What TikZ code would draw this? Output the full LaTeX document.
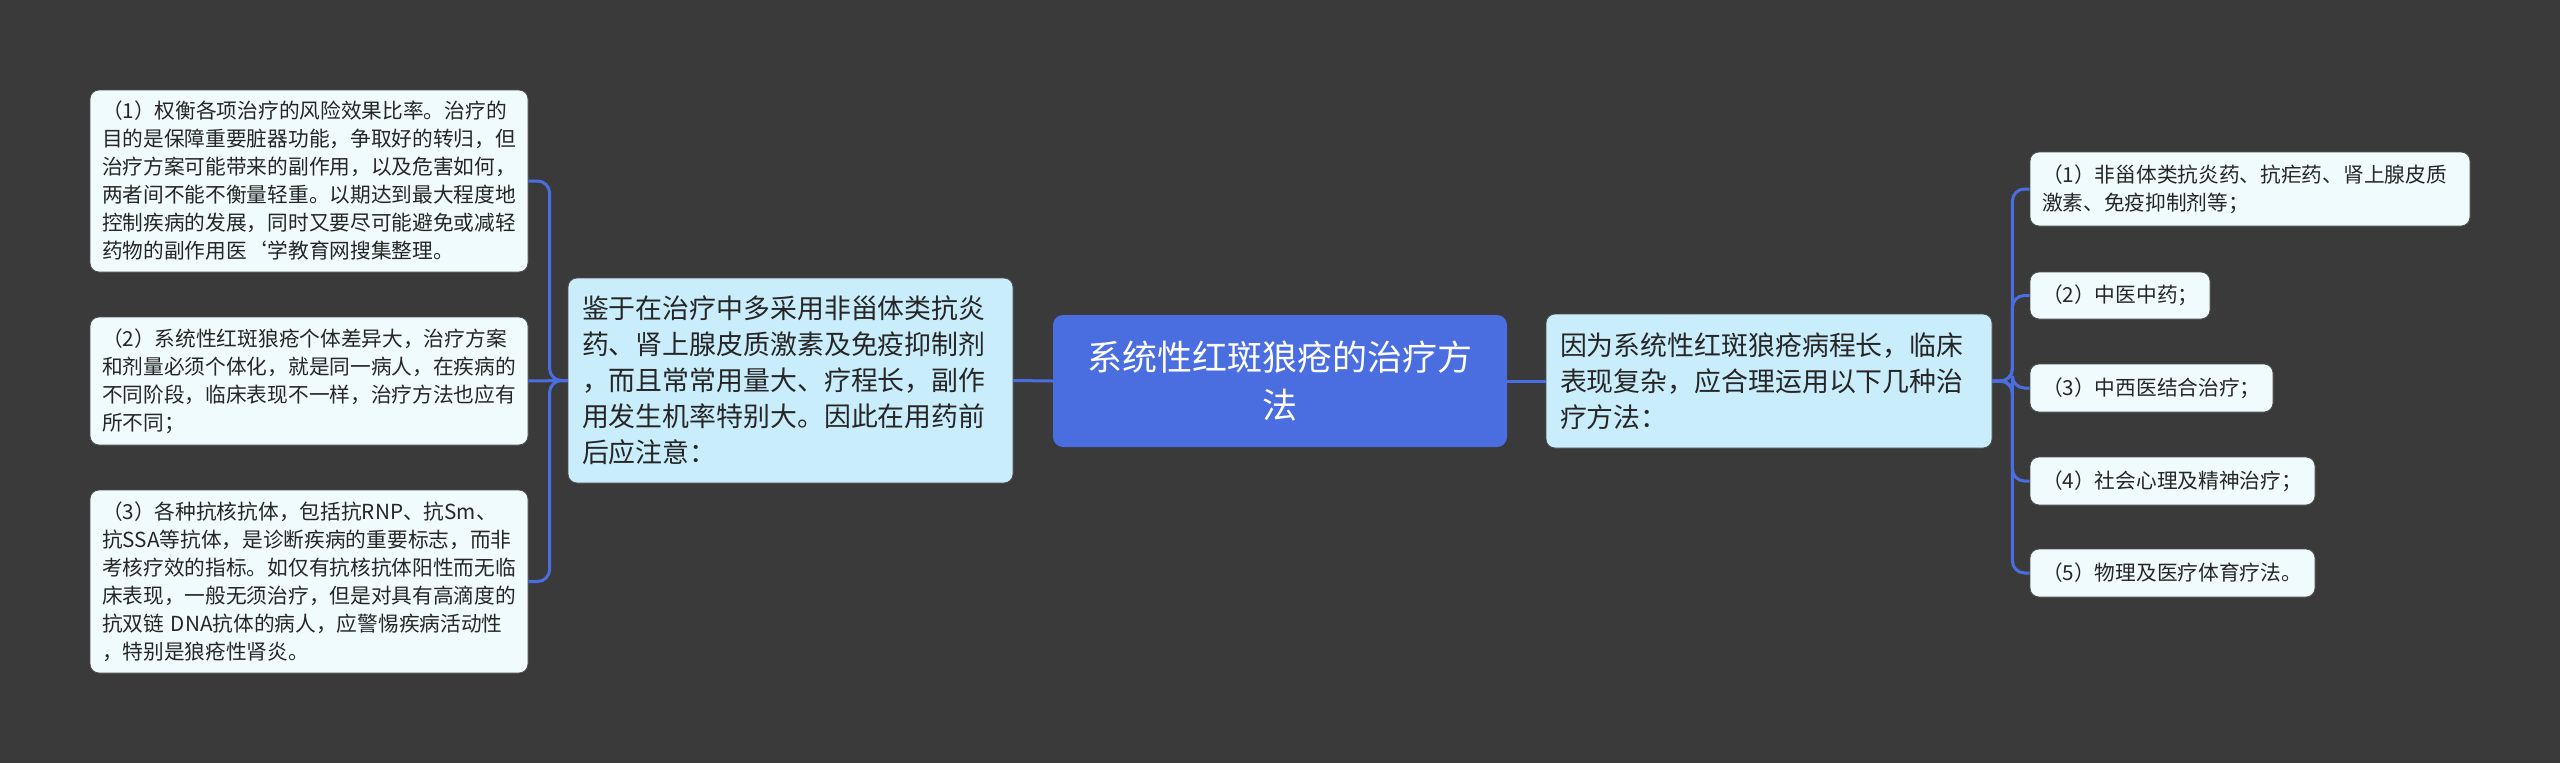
\documentclass[tikz,border=0pt]{standalone}
\usepackage{fontspec}
\setmainfont{Noto Sans CJK SC}
\definecolor{bg}{HTML}{3A3A3A}
\definecolor{ctr}{HTML}{4A6DE0}
\definecolor{mid}{HTML}{CAEDFC}
\definecolor{leaf}{HTML}{F0FBFE}
\definecolor{conncol}{HTML}{4A6DE0}
\begin{document}
\begin{tikzpicture}[x=1pt,y=-1pt,
  leafbox/.style={draw=black!70, line width=0.8pt, fill=leaf, rounded corners=9pt,
    inner xsep=12pt, inner ysep=0pt, align=left, text=black!85,
    font=\fontsize{20.7pt}{28pt}\selectfont},
  midbox/.style={draw=black!70, line width=0.8pt, fill=mid, rounded corners=9pt,
    inner xsep=14pt, inner ysep=0pt, align=left, text=black!85,
    font=\fontsize{26.9pt}{36pt}\selectfont},
  ctrbox/.style={fill=ctr, rounded corners=10pt, inner xsep=14pt, inner ysep=0pt,
    align=center, text=white, font=\fontsize{35pt}{48pt}\selectfont},
  conn/.style={draw=conncol, line width=3pt, rounded corners=12pt}]
\fill[bg] (0,0) rectangle (2560,763);
\useasboundingbox (0,0) rectangle (2560,763);

% center
\node[ctrbox, text width=426pt, minimum height=132pt] (c) at (1280,381)
  {系统性红斑狼疮的治疗方\\法};

% middle nodes
\node[midbox, text width=417pt, minimum height=205pt] (ml) at (790.5,380.5)
  {鉴于在治疗中多采用非甾体类抗炎\\药、肾上腺皮质激素及免疫抑制剂\\，而且常常用量大、疗程长，副作\\用发生机率特别大。因此在用药前\\后应注意：};
\node[midbox, text width=418pt, minimum height=134pt] (mr) at (1769,381)
  {因为系统性红斑狼疮病程长，临床\\表现复杂，应合理运用以下几种治\\疗方法：};

% left leaves
\node[leafbox, text width=414pt, minimum height=182pt] (l1) at (309,181)
  {（1）权衡各项治疗的风险效果比率。治疗的\\目的是保障重要脏器功能，争取好的转归，但\\治疗方案可能带来的副作用，以及危害如何，\\两者间不能不衡量轻重。以期达到最大程度地\\控制疾病的发展，同时又要尽可能避免或减轻\\药物的副作用医\symbol{96}学教育网搜集整理。};
\node[leafbox, text width=414pt, minimum height=128pt] (l2) at (309,381)
  {（2）系统性红斑狼疮个体差异大，治疗方案\\和剂量必须个体化，就是同一病人，在疾病的\\不同阶段，临床表现不一样，治疗方法也应有\\所不同；};
\node[leafbox, text width=414pt, minimum height=183pt] (l3) at (309,581.5)
  {（3）各种抗核抗体，包括抗RNP、抗Sm、\\抗SSA等抗体，是诊断疾病的重要标志，而非\\考核疗效的指标。如仅有抗核抗体阳性而无临\\床表现，一般无须治疗，但是对具有高滴度的\\抗双链 DNA抗体的病人，应警惕疾病活动性\\，特别是狼疮性肾炎。};

% right leaves
\node[leafbox, text width=416pt, minimum height=74pt] (r1) at (2250,189)
  {（1）非甾体类抗炎药、抗疟药、肾上腺皮质\\激素、免疫抑制剂等；};
\node[leafbox, text width=156pt, minimum height=47pt] (r2) at (2120,295.5)
  {（2）中医中药；};
\node[leafbox, text width=219pt, minimum height=48pt] (r3) at (2151.5,388)
  {（3）中西医结合治疗；};
\node[leafbox, text width=261pt, minimum height=48pt] (r4) at (2172.5,481)
  {（4）社会心理及精神治疗；};
\node[leafbox, text width=261pt, minimum height=48pt] (r5) at (2172.5,573)
  {（5）物理及医疗体育疗法。};

% connectors
\draw[conn] (c.west) -- (ml.east);
\draw[conn] (c.east) -- (mr.west);
\draw[conn] (ml.west) -- ++(-18,0) |- (l1.east);
\draw[conn] (ml.west) -- (l2.east);
\draw[conn] (ml.west) -- ++(-18,0) |- (l3.east);
\draw[conn] (mr.east) -- ++(20,0) |- (r1.west);
\draw[conn] (mr.east) -- ++(20,0) |- (r2.west);
\draw[conn] (mr.east) -- ++(20,0) |- (r3.west);
\draw[conn] (mr.east) -- ++(20,0) |- (r4.west);
\draw[conn] (mr.east) -- ++(20,0) |- (r5.west);
\end{tikzpicture}
\end{document}
